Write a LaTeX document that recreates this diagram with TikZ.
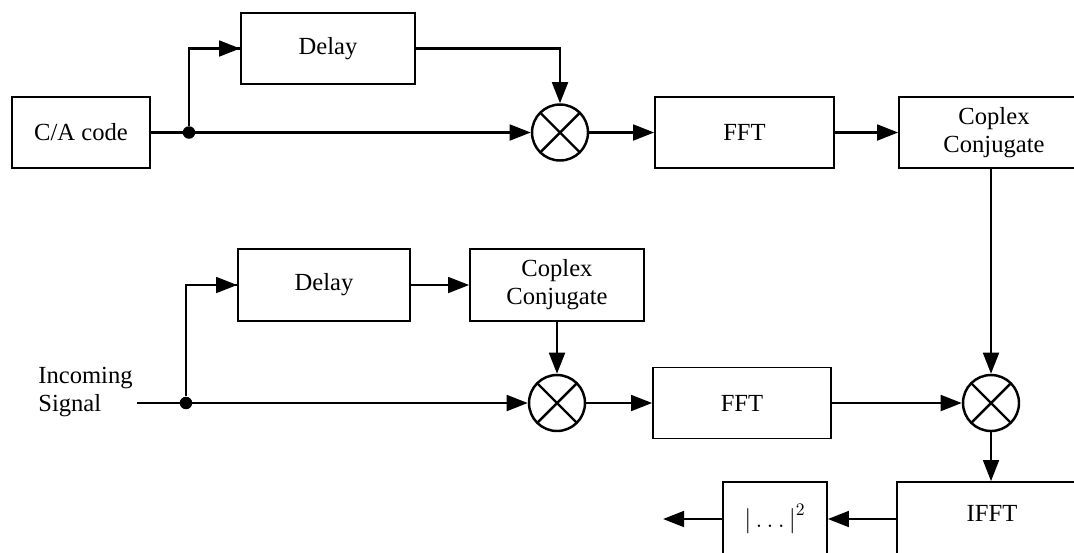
\documentclass[tikz,border=0pt]{standalone}
\usepackage{fontspec}
\setmainfont{Liberation Serif}
\usetikzlibrary{arrows.meta}

\tikzset{
  blk/.style={draw, line width=1pt, rectangle, inner sep=0pt, align=center,
              minimum height=1.42cm, font=\fontsize{14}{16}\selectfont},
  mixer/.style={draw, circle, line width=1.4pt, minimum size=1.12cm, inner sep=0pt,
                path picture={
                  \draw[line width=1.4pt] (path picture bounding box.north west) -- (path picture bounding box.south east);
                  \draw[line width=1.4pt] (path picture bounding box.south west) -- (path picture bounding box.north east);
                }},
  jdot/.style={circle, fill=black, inner sep=0pt, minimum size=0.25cm},
  sig/.style={line width=1.4pt, -{Triangle[length=12pt,width=9pt]}},
  wire/.style={line width=1.4pt},
  lbl/.style={font=\fontsize{14}{16}\selectfont, inner sep=0pt}
}

\begin{document}
\begin{tikzpicture}[x=0.02cm, y=-0.02cm]
  \useasboundingbox (0,0) rectangle (1074,552);
  \clip (0,0) rectangle (1074,552);
  \fill[white] (0,0) rectangle (1074,552);

  % upper branch: reference code
  \node[blk, minimum width=2.76cm] (ca)   at (81,132.5)  {C/A code};
  \node[jdot]                      (dot1) at (189,132.5) {};
  \node[blk, minimum width=3.48cm] (d1)   at (328,48.5)  {Delay};
  \node[mixer]                     (m1)   at (560,132.5) {};
  \node[blk, minimum width=3.58cm] (fft1) at (744.5,132.5) {FFT};
  \node[blk, minimum width=3.8cm]  (cc1)  at (994,132.5) {Coplex\\Conjugate};

  % lower branch: received signal
  \node[lbl, align=left, anchor=west] (insig) at (38,392) {Incoming\\Signal};
  \coordinate (in) at (137,403);
  \node[jdot]                                          (dot2) at (186,403) {};
  \node[blk, minimum width=3.44cm, minimum height=1.44cm] (d2)  at (324,285) {Delay};
  \node[blk, minimum width=3.48cm, minimum height=1.44cm] (cc2) at (557,285) {Coplex\\Conjugate};
  \node[mixer]                     (m2)   at (557,403)   {};
  \node[blk, minimum width=3.56cm] (fft2) at (742,403)   {FFT};

  % correlation output
  \node[mixer]                     (m3)   at (991,403)   {};
  \node[blk, minimum width=3.8cm, minimum height=1.48cm]  (ifft) at (992,519) {\raisebox{0.24cm}{IFFT}};
  \node[blk, minimum width=2.08cm, minimum height=1.48cm] (abs)  at (775,519) {$\big|\ldots\big|^{2}$};
  \coordinate (out) at (663,519);

  % connectors, upper branch
  \draw[sig] (ca.east) -- (m1.west);
  \draw[wire] (dot1) |- (d1.west);
  \draw[sig] (dot1 |- d1.west) -- (d1.west);
  \draw[sig] (d1.east) -| (m1.north);
  \draw[sig] (m1.east) -- (fft1.west);
  \draw[sig] (fft1.east) -- (cc1.west);
  \draw[sig] (cc1.south -| m3.north) -- (m3.north);

  % connectors, lower branch
  \draw[sig] (in) -- (m2.west);
  \draw[wire] (dot2) |- (d2.west);
  \draw[sig] (dot2 |- d2.west) -- (d2.west);
  \draw[sig] (d2.east) -- (cc2.west);
  \draw[sig] (cc2.south) -- (m2.north);
  \draw[sig] (m2.east) -- (fft2.west);
  \draw[sig] (fft2.east) -- (m3.west);

  % output chain
  \draw[sig] (m3.south) -- (m3.south |- ifft.north);
  \draw[sig] (ifft.west) -- (abs.east);
  \draw[sig] (abs.west) -- (out);
\end{tikzpicture}
\end{document}
